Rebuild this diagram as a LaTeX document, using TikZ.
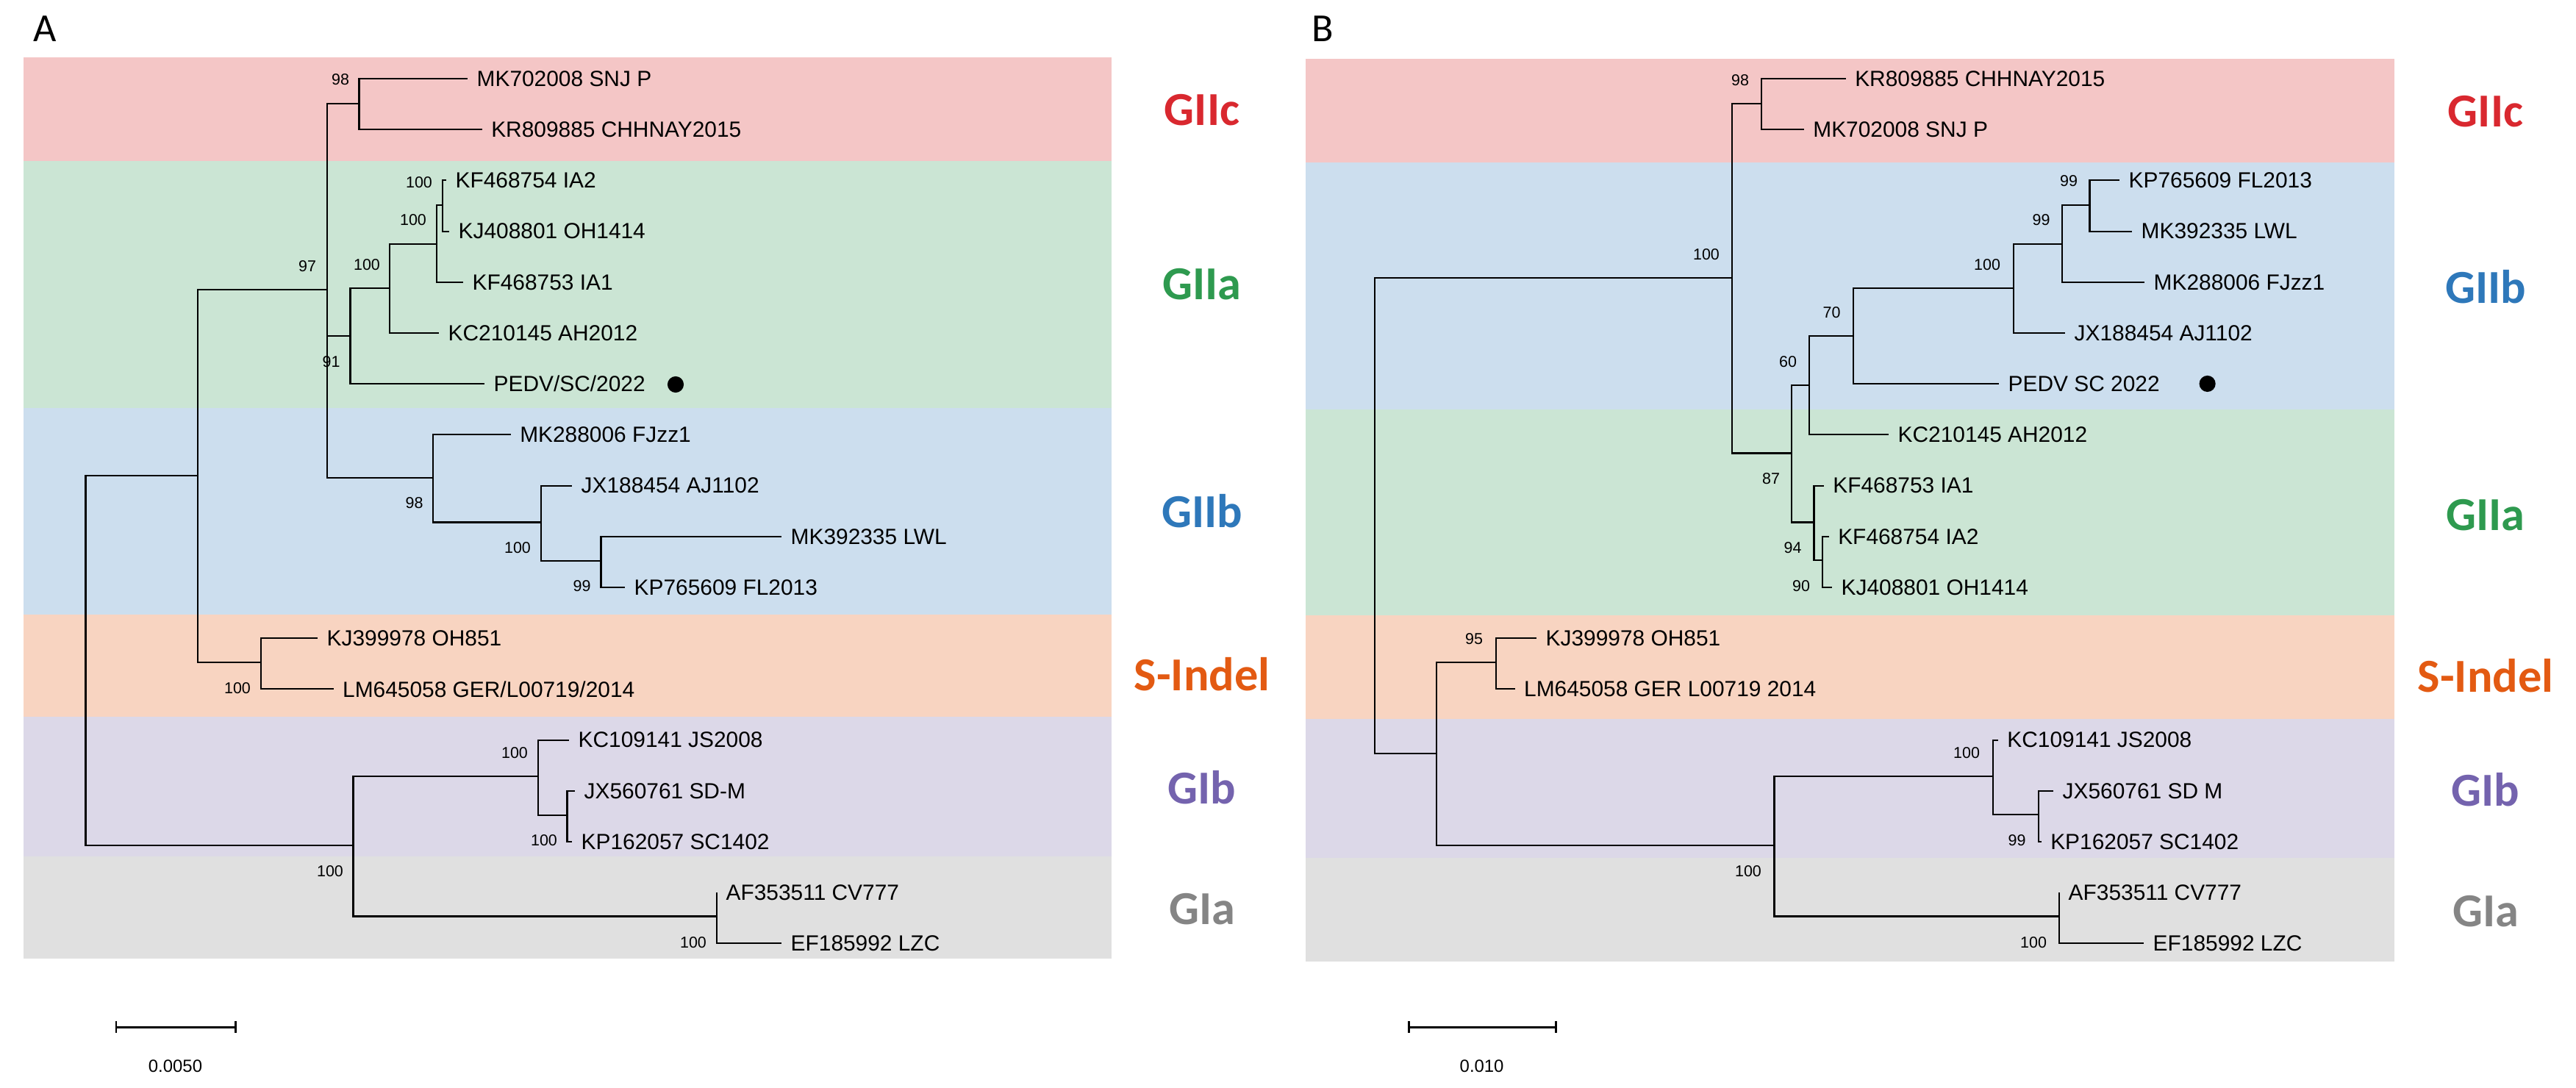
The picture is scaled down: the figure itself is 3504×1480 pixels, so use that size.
\documentclass[tikz,border=0pt]{standalone}
\usepackage{fontspec}
\setmainfont{Liberation Sans}
\newfontfamily\calib{Carlito}
\definecolor{pinkband}{HTML}{F4C6C6}
\definecolor{greenband}{HTML}{CBE5D4}
\definecolor{blueband}{HTML}{CCDEEE}
\definecolor{orangeband}{HTML}{F8D4C1}
\definecolor{purpleband}{HTML}{DCD8E8}
\definecolor{grayband}{HTML}{E0E0E0}
\definecolor{cGIIc}{HTML}{D9282F}
\definecolor{cGIIa}{HTML}{2E9A4F}
\definecolor{cGIIb}{HTML}{2E78BA}
\definecolor{cSI}{HTML}{E35A12}
\definecolor{cGIb}{HTML}{7463AE}
\definecolor{cGIa}{HTML}{858585}
\begin{document}
\begin{tikzpicture}[x=0.01cm,y=-0.01cm,
  br/.style={line width=0.6pt, black},
  leaf/.style={anchor=west, inner xsep=3.4pt, inner ysep=0pt, font=\fontsize{8.5}{10}\selectfont},
  bs/.style={inner sep=0pt, font=\fontsize{6.1}{7}\selectfont},
  grp/.style={inner sep=0pt, font=\calib\bfseries\fontsize{18.3}{20}\selectfont},
  panel/.style={inner sep=0pt, font=\calib\fontsize{15.4}{17}\selectfont},
  sbar/.style={line width=0.85pt, black},
  sblab/.style={inner sep=0pt, font=\fontsize{6.8}{8}\selectfont},
  dotmark/.style={circle, fill=black, inner sep=0pt, minimum size=6.3pt}]
\useasboundingbox (0,0) rectangle (3504,1480);
\fill[white] (0,0) rectangle (3504,1480);
% ---------- bands A ----------
\fill[pinkband]   (32,78)   rectangle (1512,219);
\fill[greenband]  (32,219)  rectangle (1512,555);
\fill[blueband]   (32,555)  rectangle (1512,836);
\fill[orangeband] (32,836)  rectangle (1512,975);
\fill[purpleband] (32,975)  rectangle (1512,1165);
\fill[grayband]   (32,1165) rectangle (1512,1304);
% ---------- bands B ----------
\fill[pinkband]   (1776,80)   rectangle (3257,221);
\fill[blueband]   (1776,221)  rectangle (3257,557);
\fill[greenband]  (1776,557)  rectangle (3257,837);
\fill[orangeband] (1776,837)  rectangle (3257,978);
\fill[purpleband] (1776,978)  rectangle (3257,1167);
\fill[grayband]   (1776,1167) rectangle (3257,1308);
% ---------- panel letters ----------
\node[panel] (pA) at (61,39.5) {A};
\node[panel] (pB) at (1799.5,39.5) {B};
% ================= TREE A =================
\coordinate (rA) at (116.5,898);
\coordinate (gII) at (268.7,647);
\coordinate (top) at (445,394);
\coordinate (cC) at (488.5,141);
\coordinate (aA) at (476.5,457);
\coordinate (a1) at (530.4,392);
\coordinate (a2) at (593.6,332);
\coordinate (a3) at (602,279);
\coordinate (bB) at (589,650);
\coordinate (b1) at (736,710.5);
\coordinate (b2) at (817.5,763);
\coordinate (sI) at (355,901);
\coordinate (gI) at (480.5,1150);
\coordinate (gIb) at (732,1056);
\coordinate (gIbb) at (771.5,1109);
\coordinate (gIa) at (975,1246.5);
\node[leaf] (A0) at (636,107) {MK702008 SNJ P};
\node[leaf] (A1) at (655.6,176.2) {KR809885 CHHNAY2015};
\node[leaf] (A2) at (607,245.4) {KF468754 IA2};
\node[leaf] (A3) at (611,314.6) {KJ408801 OH1414};
\node[leaf] (A4) at (630,383.8) {KF468753 IA1};
\node[leaf] (A5) at (597,453) {KC210145 AH2012};
\node[leaf] (A6) at (659,522.2) {PEDV/SC/2022};
\node[leaf] (A7) at (694.6,591.4) {MK288006 FJzz1};
\node[leaf] (A8) at (778,660.6) {JX188454 AJ1102};
\node[leaf] (A9) at (1063,729.8) {MK392335 LWL};
\node[leaf] (A10) at (850,799) {KP765609 FL2013};
\node[leaf] (A11) at (432,868.2) {KJ399978 OH851};
\node[leaf] (A12) at (453.5,937.4) {LM645058 GER/L00719/2014};
\node[leaf] (A13) at (774,1006.6) {KC109141 JS2008};
\node[leaf] (A14) at (782,1075.8) {JX560761 SD-M};
\node[leaf] (A15) at (778,1145) {KP162057 SC1402};
\node[leaf] (A16) at (975,1214.2) {AF353511 CV777};
\node[leaf] (A17) at (1063,1283.4) {EF185992 LZC};
\node[dotmark] (dA) at (919,523) {};
\draw[br] (rA) |- (gII);  \draw[br] (rA) |- (gI);
\draw[br] (gII) |- (top); \draw[br] (gII) |- (sI);
\draw[br] (top) |- (cC);  \draw[br] (top) |- (aA); \draw[br] (top) |- (bB);
\draw[br] (cC) |- (A0.west); \draw[br] (cC) |- (A1.west);
\draw[br] (aA) |- (a1); \draw[br] (aA) |- (A6.west);
\draw[br] (a1) |- (a2); \draw[br] (a1) |- (A5.west);
\draw[br] (a2) |- (a3); \draw[br] (a2) |- (A4.west);
\draw[br] (a3) |- (A2.west); \draw[br] (a3) |- (A3.west);
\draw[br] (bB) |- (A7.west); \draw[br] (bB) |- (b1);
\draw[br] (b1) |- (A8.west); \draw[br] (b1) |- (b2);
\draw[br] (b2) |- (A9.west); \draw[br] (b2) |- (A10.west);
\draw[br] (sI) |- (A11.west); \draw[br] (sI) |- (A12.west);
\draw[br] (gI) |- (gIb); \draw[br] (gI) |- (gIa);
\draw[br] (gIb) |- (A13.west); \draw[br] (gIb) |- (gIbb);
\draw[br] (gIbb) |- (A14.west); \draw[br] (gIbb) |- (A15.west);
\draw[br] (gIa) |- (A16.west); \draw[br] (gIa) |- (A17.west);
% bootstrap A
\node[bs] (bsA1) at (463,108) {98};
\node[bs] (bsA2) at (570,248) {100};
\node[bs] (bsA3) at (562,299) {100};
\node[bs] (bsA4) at (499,360) {100};
\node[bs] (bsA5) at (418,362) {97};
\node[bs] (bsA6) at (450.5,492) {91};
\node[bs] (bsA7) at (563.5,684) {98};
\node[bs] (bsA8) at (704,745) {100};
\node[bs] (bsA9) at (791.5,797.5) {99};
\node[bs] (bsA10) at (323,936) {100};
\node[bs] (bsA11) at (700,1024) {100};
\node[bs] (bsA12) at (740,1143) {100};
\node[bs] (bsA13) at (449,1185) {100};
\node[bs] (bsA14) at (943,1282) {100};
% groups A
\node[grp, text=cGIIc] (gAc) at (1635,150) {GIIc};
\node[grp, text=cGIIa] (gAa) at (1635,387) {GIIa};
\node[grp, text=cGIIb] (gAb) at (1635,695) {GIIb};
\node[grp, text=cSI]   (gAs) at (1635,917) {S-Indel};
\node[grp, text=cGIb]  (gAib) at (1635,1071) {GIb};
\node[grp, text=cGIa]  (gAia) at (1635,1237) {GIa};
% scale A
\coordinate (sa1) at (158,1397); \coordinate (sa2) at (320,1397);
\draw[sbar] (sa1) -- (sa2);
\draw[sbar] ([yshift=2.3pt]sa1) -- ([yshift=-2.3pt]sa1);
\draw[sbar] ([yshift=2.3pt]sa2) -- ([yshift=-2.3pt]sa2);
\node[sblab] (slA) at (238.5,1450) {0.0050};
% ================= TREE B =================
\coordinate (rB) at (1870,700);
\coordinate (gIIB) at (2356,377.7);
\coordinate (cCB) at (2396,141);
\coordinate (n87) at (2437,616.5);
\coordinate (n60) at (2461,523.7);
\coordinate (n70) at (2521,456.7);
\coordinate (bBB) at (2738.8,392);
\coordinate (bB2) at (2805,331.7);
\coordinate (bB3) at (2842.5,279);
\coordinate (aAB) at (2467.5,710.5);
\coordinate (aA2) at (2479,762);
\coordinate (outB) at (1953.7,1024.8);
\coordinate (sIB) at (2034.7,900.8);
\coordinate (gIB) at (2413.5,1150);
\coordinate (gIbB) at (2711,1056);
\coordinate (gIbbB) at (2773,1108);
\coordinate (gIaB) at (2801,1246.5);
\node[leaf] (B0) at (2510.6,107) {KR809885 CHHNAY2015};
\node[leaf] (B1) at (2453.7,176.2) {MK702008 SNJ P};
\node[leaf] (B2) at (2883,245.4) {KP765609 FL2013};
\node[leaf] (B3) at (2900,314.6) {MK392335 LWL};
\node[leaf] (B4) at (2917,383.8) {MK288006 FJzz1};
\node[leaf] (B5) at (2809,453) {JX188454 AJ1102};
\node[leaf] (B6) at (2719,522.2) {PEDV SC 2022};
\node[leaf] (B7) at (2569,591.4) {KC210145 AH2012};
\node[leaf] (B8) at (2480.7,660.6) {KF468753 IA1};
\node[leaf] (B9) at (2487.6,729.8) {KF468754 IA2};
\node[leaf] (B10) at (2492,799) {KJ408801 OH1414};
\node[leaf] (B11) at (2090,868.2) {KJ399978 OH851};
\node[leaf] (B12) at (2060.5,937.4) {LM645058 GER L00719 2014};
\node[leaf] (B13) at (2717.7,1006.6) {KC109141 JS2008};
\node[leaf] (B14) at (2793,1075.8) {JX560761 SD M};
\node[leaf] (B15) at (2776.6,1145) {KP162057 SC1402};
\node[leaf] (B16) at (2801,1214.2) {AF353511 CV777};
\node[leaf] (B17) at (2916,1283.4) {EF185992 LZC};
\node[dotmark] (dB) at (3002.6,522) {};
\draw[br] (rB) |- (gIIB); \draw[br] (rB) |- (outB);
\draw[br] (gIIB) |- (cCB); \draw[br] (gIIB) |- (n87);
\draw[br] (cCB) |- (B0.west); \draw[br] (cCB) |- (B1.west);
\draw[br] (n87) |- (n60); \draw[br] (n87) |- (aAB);
\draw[br] (n60) |- (n70); \draw[br] (n60) |- (B7.west);
\draw[br] (n70) |- (bBB); \draw[br] (n70) |- (B6.west);
\draw[br] (bBB) |- (bB2); \draw[br] (bBB) |- (B5.west);
\draw[br] (bB2) |- (bB3); \draw[br] (bB2) |- (B4.west);
\draw[br] (bB3) |- (B2.west); \draw[br] (bB3) |- (B3.west);
\draw[br] (aAB) |- (B8.west); \draw[br] (aAB) |- (aA2);
\draw[br] (aA2) |- (B9.west); \draw[br] (aA2) |- (B10.west);
\draw[br] (outB) |- (sIB); \draw[br] (outB) |- (gIB);
\draw[br] (sIB) |- (B11.west); \draw[br] (sIB) |- (B12.west);
\draw[br] (gIB) |- (gIbB); \draw[br] (gIB) |- (gIaB);
\draw[br] (gIbB) |- (B13.west); \draw[br] (gIbB) |- (gIbbB);
\draw[br] (gIbbB) |- (B14.west); \draw[br] (gIbbB) |- (B15.west);
\draw[br] (gIaB) |- (B16.west); \draw[br] (gIaB) |- (B17.west);
% bootstrap B
\node[bs] (bsB1) at (2367,109) {98};
\node[bs] (bsB2) at (2321,346) {100};
\node[bs] (bsB3) at (2814,246) {99};
\node[bs] (bsB4) at (2776.5,299) {99};
\node[bs] (bsB5) at (2703,360) {100};
\node[bs] (bsB6) at (2491.5,425) {70};
\node[bs] (bsB7) at (2432,492) {60};
\node[bs] (bsB8) at (2409,651) {87};
\node[bs] (bsB9) at (2438.5,745) {94};
\node[bs] (bsB10) at (2450,797.5) {90};
\node[bs] (bsB11) at (2005,869) {95};
\node[bs] (bsB12) at (2378,1185) {100};
\node[bs] (bsB13) at (2675,1024) {100};
\node[bs] (bsB14) at (2743.5,1143) {99};
\node[bs] (bsB15) at (2766,1282) {100};
% groups B
\node[grp, text=cGIIc] (gBc) at (3381,152) {GIIc};
\node[grp, text=cGIIb] (gBb) at (3381,390) {GIIb};
\node[grp, text=cGIIa] (gBa) at (3381,701) {GIIa};
\node[grp, text=cSI]   (gBs) at (3381,919) {S-Indel};
\node[grp, text=cGIb]  (gBib) at (3381,1074) {GIb};
\node[grp, text=cGIa]  (gBia) at (3381,1240) {GIa};
% scale B
\coordinate (sb1) at (1916.4,1397); \coordinate (sb2) at (2116,1397);
\draw[sbar] (sb1) -- (sb2);
\draw[sbar] ([yshift=2.3pt]sb1) -- ([yshift=-2.3pt]sb1);
\draw[sbar] ([yshift=2.3pt]sb2) -- ([yshift=-2.3pt]sb2);
\node[sblab] (slB) at (2015.6,1450) {0.010};
\end{tikzpicture}
\end{document}
